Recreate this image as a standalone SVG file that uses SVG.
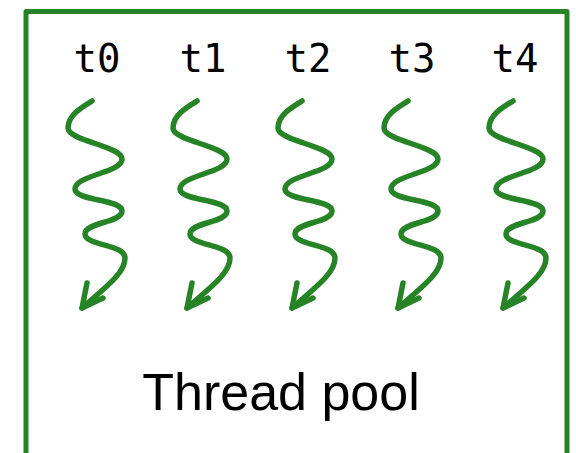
<svg xmlns="http://www.w3.org/2000/svg" width="576" height="453" viewBox="0 0 576 453">
<style>
.box{fill:none;stroke:#268326;stroke-width:5;stroke-linejoin:round}
.thread{fill:none;stroke:#268326;stroke-width:5.5;stroke-linecap:round;stroke-linejoin:round}
.lbl{font-family:"DejaVu Sans Mono","Liberation Mono",monospace;font-size:39px;fill:#000;text-anchor:middle}
.title{font-family:"Liberation Sans",Arial,sans-serif;font-size:52px;fill:#000;text-anchor:middle}
</style>
<defs>
<g id="squiggle">
<path class="thread" d="M 0 0 C -10 6 -24 14 -24 27 C -24 40 30 45 30 58 C 30 72 -17 74 -17 88 C -17 100 30 98 30 110 C 30 122 -7 121 -7 133 C -7 145 33 143 33 157 C 33 172 15 185 -10 207"/>
<path class="thread" d="M -5 182 L -10 207 L 11 197"/>
</g>
</defs>
<g id="pool">
<path class="box" d="M 26 453 V 11.5 H 567 V 453"/>
<text class="title" x="281" y="410">Thread pool</text>
</g>
<g id="t0"><text class="lbl" x="97" y="72">t0</text><use href="#squiggle" x="92" y="101"/></g>
<g id="t1"><text class="lbl" x="203" y="72">t1</text><use href="#squiggle" x="197" y="101"/></g>
<g id="t2"><text class="lbl" x="308" y="72">t2</text><use href="#squiggle" x="302" y="101"/></g>
<g id="t3"><text class="lbl" x="412" y="72">t3</text><use href="#squiggle" x="408" y="101"/></g>
<g id="t4"><text class="lbl" x="515" y="72">t4</text><use href="#squiggle" x="513" y="101"/></g>
</svg>
